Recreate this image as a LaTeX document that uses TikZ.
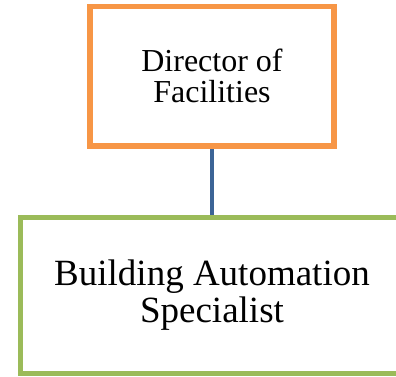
\documentclass[tikz,border=0pt]{standalone}
\usepackage{fontspec}
\setmainfont{Liberation Serif}
\usetikzlibrary{positioning}

\definecolor{boxorange}{HTML}{F79646}
\definecolor{boxgreen}{HTML}{9BBB59}
\definecolor{linkblue}{HTML}{3C6496}

\begin{document}
\begin{tikzpicture}[x=1pt, y=1pt,
        topbox/.style={draw=boxorange, line width=5.5pt, fill=white, minimum width=244pt, minimum height=139.5pt, align=center, inner sep=0pt, font=\fontsize{32}{31}\selectfont},
        lowbox/.style={draw=boxgreen, line width=5pt, fill=white, minimum width=383pt, minimum height=156.5pt, align=center, inner sep=0pt, font=\fontsize{37}{37}\selectfont},
        link/.style={draw=linkblue, line width=4.5pt}]

        \useasboundingbox (0,0) rectangle (396,376);  % page size

        \node[topbox] (director) at (212, 299.75) {Director of\\Facilities};
        \node[lowbox] (specialist) at (212, 80.75) {Building Automation\\Specialist};

        \draw[link] (director.south) -- (specialist.north);

\end{tikzpicture}
\end{document}
